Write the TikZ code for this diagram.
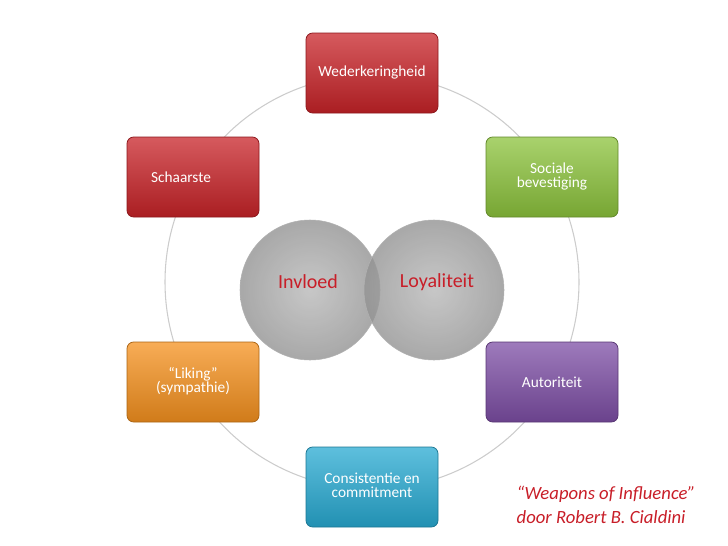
\documentclass[tikz,border=0pt]{standalone}
\usepackage{fontspec}
\setmainfont{Carlito}
\begin{document}
\begin{tikzpicture}[x=0.75pt,y=-0.75pt,
  box/.style={draw=#1!70!black, rounded corners=5pt, minimum width=99pt, minimum height=60pt, text=white, font=\fontsize{11.5}{13}\selectfont, align=center, top color=#1!75!white, bottom color=#1!85!black, line width=0.6pt},
  venn/.style={circle, minimum size=105pt, inner color=gray!55, outer color=gray!85, fill opacity=0.8, draw=gray!60, text opacity=1}]
\useasboundingbox (0,0) rectangle (728,546);
\draw[gray!40, line width=0.8pt] (372,282) circle (207);
\node[venn] (l) at (310,290) {};
\node[venn] (r) at (434,290) {};
\definecolor{ct}{RGB}{200,30,40}
\node[text=ct, font=\fontsize{15}{18}\selectfont] (lt) at (308,282) {Invloed};
\node[text=ct, font=\fontsize{15}{18}\selectfont] (rt) at (437,282) {Loyaliteit};
\definecolor{cr}{RGB}{200,35,40}
\definecolor{cg}{RGB}{140,195,60}
\definecolor{cp}{RGB}{125,78,165}
\definecolor{cb}{RGB}{40,170,210}
\definecolor{co}{RGB}{245,145,30}
\node[box=cr] (w) at (372,73) {\raisebox{2pt}{Wederkeringheid}};
\node[box=cr] (s) at (193,177) {\hspace*{-18pt}Schaarste};
\node[box=cg] (b) at (552,177) {\begin{tabular}{c}Sociale\\[-2pt]bevestiging\end{tabular}};
\node[box=co] (li) at (193,382) {\begin{tabular}{c}``Liking''\\[-2pt](sympathie)\end{tabular}};
\node[box=cp] (a) at (552,382) {Autoriteit};
\node[box=cb] (c) at (372,487) {\raisebox{7pt}{\begin{tabular}{c}Consistentie en\\[-2pt]commitment\end{tabular}}};
\node[text=ct, font=\fontsize{14}{18}\selectfont\itshape, align=left, anchor=west] (q) at (512,505) {``Weapons of Influence''\\door Robert B. Cialdini};
\end{tikzpicture}
\end{document}
